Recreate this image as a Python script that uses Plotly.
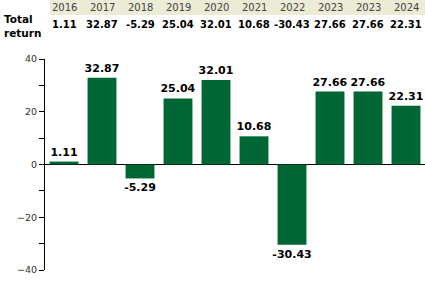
import plotly.graph_objects as go

years = ["2016", "2017", "2018", "2019", "2020", "2021", "2022", "2023", "2023", "2024"]
returns = [1.11, 32.87, -5.29, 25.04, 32.01, 10.68, -30.43, 27.66, 27.66, 22.31]
header_label = "Total<br>return"

W, H = 425, 288
ML, MR, MT, MB = 45, 0, 59, 18
ph = H - MT - MB

def py(p):
    return (H - MB - p) / ph

def px(p):
    return (p - ML) / (W - ML - MR)

xs = list(range(len(years)))
font = "DejaVu Sans, Verdana, sans-serif"

fig = go.Figure(go.Bar(
    x=xs, y=returns,
    marker=dict(color="#006633", line=dict(width=0)),
    text=[f"{v:.2f}" for v in returns],
    textposition="outside",
    constraintext="none",
    textfont=dict(family=font, size=11, color="black", weight="bold"),
    cliponaxis=False,
    hoverinfo="skip",
))

fig.add_shape(type="rect", xref="paper", yref="paper",
              x0=px(50), x1=1.0, y0=py(15), y1=py(0),
              fillcolor="#EBEBD6", line=dict(width=0), layer="below")

annotations = []
for i, (yr, v) in enumerate(zip(years, returns)):
    annotations.append(dict(x=i, xref="x", y=py(7.5), yref="paper", text=yr,
                            showarrow=False, xanchor="center", yanchor="middle",
                            font=dict(family=font, size=10, color="#444444")))
    annotations.append(dict(x=i, xref="x", y=py(25), yref="paper", text=f"{v:.2f}",
                            showarrow=False, xanchor="center", yanchor="middle",
                            font=dict(family=font, size=10, color="black", weight="bold")))
annotations.append(dict(x=px(2), xref="paper", y=py(26), yref="paper", text=header_label,
                        showarrow=False, xanchor="left", yanchor="middle", align="left",
                        font=dict(family=font, size=10.5, color="black", weight="bold")))

fig.update_layout(
    width=W, height=H,
    margin=dict(l=ML, r=MR, t=MT, b=MB),
    paper_bgcolor="white", plot_bgcolor="white",
    showlegend=False,
    bargap=0.24,
    annotations=annotations,
    xaxis=dict(range=[-0.5, len(years) - 0.5], showticklabels=False, showgrid=False,
               zeroline=False, showline=False, ticks=""),
    yaxis=dict(range=[-40, 40], tickvals=[-40, -20, 0, 20, 40], showgrid=False,
               zeroline=True, zerolinecolor="black", zerolinewidth=1,
               showline=True, linecolor="black", linewidth=1,
               ticks="outside", ticklen=5, tickcolor="black", tickwidth=1,
               tickfont=dict(family=font, size=9.5, color="#333333"),
               minor=dict(tickvals=[-30, -10, 10, 30], ticks="outside", ticklen=5,
                          tickcolor="black", tickwidth=1, showgrid=False)),
)

fig.write_html("out.html")
